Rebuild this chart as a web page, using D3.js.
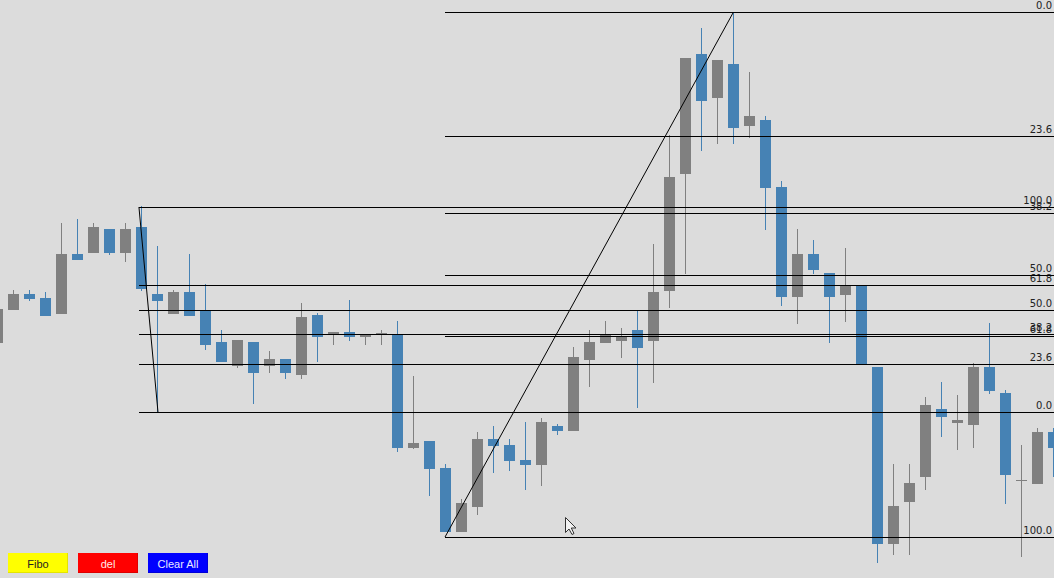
<!DOCTYPE html>
<html>
<head>
<meta charset="utf-8">
<script src="https://cdn.jsdelivr.net/npm/d3@7"></script>
<style>
  html, body { margin: 0; padding: 0; background: #dcdcdc; overflow: hidden; }
  svg { display: block; }
</style>
</head>
<body>
<svg id="chart" width="1054" height="578"></svg>
<script>
// ---- data ----
const firstIndex = -1;
const opens  = [65.7,69.0,70.6,70.2,68.6,74.6,74.7,77.1,74.7,77.3,70.6,68.6,70.8,68.9,65.8,63.4,65.8,63.4,64.1,62.5,68.5,66.6,66.8,66.3,66.6,66.5,55.2,55.9,53.2,46.8,49.3,56.1,55.5,54.0,53.5,57.4,56.9,64.0,65.7,65.9,67.0,65.9,70.9,82.6,94.6,90.2,93.6,87.4,88.0,81.3,70.3,74.6,72.7,70.5,71.4,63.3,45.6,49.8,52.3,59.1,57.7,57.5,63.3,60.7,52.0,51.6,56.8];
const highs  = [69.3,71.0,71.0,70.8,77.7,78.1,77.7,77.1,77.7,79.4,75.4,71.0,74.6,71.6,67.0,66.0,65.8,64.9,64.1,69.7,68.7,66.8,70.0,66.5,67.0,67.9,62.4,55.9,53.6,50.1,56.8,57.4,56.1,57.8,58.2,57.6,65.3,67.0,67.9,67.2,69.0,75.6,86.5,94.2,97.2,94.0,98.8,92.8,88.4,81.9,77.1,76.0,72.7,75.2,71.4,63.3,53.6,53.6,60.3,61.8,60.5,63.7,67.7,61.0,55.5,57.2,57.2];
const lows   = [65.5,69.0,69.9,68.4,68.6,74.0,74.7,74.5,73.8,70.9,58.8,68.6,68.4,65.0,63.8,63.2,59.6,62.7,62.1,62.1,63.8,65.5,65.9,65.5,65.5,54.8,55.1,50.4,46.8,46.8,48.5,52.7,52.9,51.0,51.4,56.5,56.9,61.3,65.7,64.2,59.2,61.7,69.2,72.6,84.9,85.6,85.6,86.2,77.0,69.4,67.6,72.6,65.7,67.8,63.6,43.7,44.5,44.5,51.0,56.3,55.0,55.2,60.6,49.6,44.3,51.6,52.3];
const closes = [69.1,70.6,70.1,68.4,74.6,74.0,77.3,74.7,77.1,71.1,69.9,70.8,68.4,65.5,63.8,66.0,62.7,64.1,62.7,68.3,66.3,66.8,66.3,66.5,66.7,55.2,55.7,53.1,46.8,49.7,56.1,55.4,53.9,53.5,57.8,56.9,64.3,65.8,66.5,66.4,65.2,70.8,82.3,94.2,89.9,94.0,87.2,88.4,81.2,70.3,74.6,73.0,70.3,71.4,63.6,45.6,49.4,51.7,59.5,58.3,58.0,63.3,60.9,52.5,52.0,56.8,55.2];

// Fibonacci retracement anchors: [candle index, price] for start and end clicks
const fibLevels = [0, 23.6, 38.2, 50.0, 61.8, 100.0];
const fibo1Start = [7.84, 79.3];
const fibo1End   = [9.03, 58.8];
const fibo2Start = [26.97, 46.3];
const fibo2End   = [45.0, 98.8];

const buttonLabels = ["Fibo", "del", "Clear All"];
const buttonColors = ["#ffff00", "#ff0000", "#0000ff"];
const buttonShades = ["#e4e400", "#dd0000", "#0000d8"];
const buttonText   = ["#222222", "#ffe8e8", "#e8e8ff"];

// ---- chart ----
const W = 1054, H = 578;
const svg = d3.select("#chart");
const candles = opens.map((o, k) => ({ i: firstIndex + k, o, h: highs[k], l: lows[k], c: closes[k] }));

const x = d3.scaleLinear().domain([-1, 65]).range([-2.5, 1053.5]);
const y = d3.scaleLinear().domain([42.2, 100]).range([H, 0]);
const bodyW = 11;
const upColor = "#808080", downColor = "#4682b4";
const col = d => d.c < d.o ? downColor : upColor;

svg.append("rect").attr("width", W).attr("height", H).attr("fill", "#dcdcdc");

const g = svg.append("g");
g.selectAll("line.wick").data(candles).join("line")
  .attr("class", "wick")
  .attr("x1", d => x(d.i)).attr("x2", d => x(d.i))
  .attr("y1", d => y(d.h)).attr("y2", d => y(d.l))
  .attr("stroke", col).attr("stroke-width", 1);

g.selectAll("rect.body").data(candles).join("rect")
  .attr("class", "body")
  .attr("x", d => x(d.i) - bodyW / 2)
  .attr("width", bodyW)
  .attr("y", d => Math.round(y(Math.max(d.o, d.c))))
  .attr("height", d => Math.max(1, Math.round(y(Math.min(d.o, d.c))) - Math.round(y(Math.max(d.o, d.c)))))
  .attr("fill", col);

// Fibonacci drawings
function drawFibo(start, end) {
  const fg = svg.append("g");
  const x0 = Math.round(x(start[0]));
  const levels = fibLevels.map(p => ({ p, price: end[1] + (start[1] - end[1]) * p / 100 }));
  fg.selectAll("line.lvl").data(levels).join("line")
    .attr("x1", x0).attr("x2", W)
    .attr("y1", d => Math.round(y(d.price)) + 0.5)
    .attr("y2", d => Math.round(y(d.price)) + 0.5)
    .attr("stroke", "#000").attr("stroke-width", 1);
  fg.selectAll("text.lbl").data(levels).join("text")
    .attr("x", 1052)
    .attr("y", d => Math.round(y(d.price)) - 3)
    .attr("text-anchor", "end")
    .attr("font-family", "DejaVu Sans, sans-serif")
    .attr("font-size", 10)
    .attr("fill", "#222")
    .text(d => d.p.toFixed(1));
  fg.append("line")
    .attr("x1", x(start[0])).attr("y1", y(start[1]))
    .attr("x2", x(end[0])).attr("y2", y(end[1]))
    .attr("stroke", "#000").attr("stroke-width", 1);
}
drawFibo(fibo1Start, fibo1End);
drawFibo(fibo2Start, fibo2End);

// Buttons
const bx = d3.scaleBand().domain(buttonLabels).range([8, 208]).paddingInner(1 / 7).paddingOuter(0);
const bg = svg.append("g");
buttonLabels.forEach((lab, k) => {
  const bxx = bx(lab), bw = bx.bandwidth();
  bg.append("rect").attr("x", bxx).attr("y", 553).attr("width", bw).attr("height", 20).attr("fill", buttonShades[k]);
  bg.append("rect").attr("x", bxx).attr("y", 553).attr("width", bw - 1).attr("height", 19).attr("fill", buttonColors[k]);
  bg.append("text").attr("x", bxx + bw / 2).attr("y", 567.5)
    .attr("text-anchor", "middle")
    .attr("font-family", "Liberation Sans, Arial, sans-serif")
    .attr("font-size", 11)
    .attr("fill", buttonText[k])
    .text(lab);
});

// mouse pointer seen in the screenshot
svg.append("path")
  .attr("transform", "translate(565.5,517.5)")
  .attr("d", "M0,0 L0,15 L3.5,11.5 L6.5,17 L8.5,16 L5.8,10.5 L10.5,10.5 Z")
  .attr("fill", "#f2f2f2").attr("stroke", "#333").attr("stroke-width", 1);
</script>
</body>
</html>
